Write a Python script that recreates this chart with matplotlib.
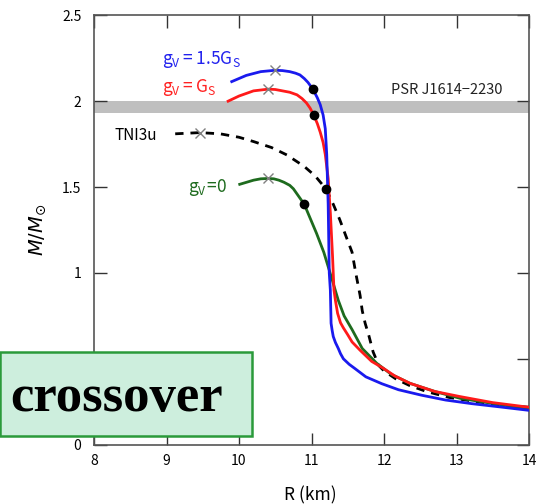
import matplotlib
matplotlib.use("Agg")
import matplotlib.pyplot as plt
from matplotlib.patches import Rectangle

plt.rcParams['font.family'] = ['Noto Sans CJK JP', 'DejaVu Sans']
plt.rcParams['mathtext.fontset'] = 'dejavusans'

# g_V = 1.5 G_S (blue)
blue_R = [9.90, 10.10, 10.30, 10.50, 10.60, 10.70, 10.78, 10.84, 10.90, 10.95, 11.02, 11.08, 11.12,
          11.16, 11.19, 11.21, 11.23, 11.245, 11.26, 11.27, 11.285, 11.30, 11.33, 11.37, 11.40,
          11.44, 11.52, 11.60, 11.75, 11.97, 12.20, 12.52, 12.85, 13.21, 13.60, 14.00]
blue_M = [2.114, 2.150, 2.172, 2.180, 2.178, 2.172, 2.163, 2.153, 2.132, 2.110, 2.070, 2.020, 1.980,
          1.920, 1.840, 1.690, 1.400, 1.000, 0.900, 0.707, 0.665, 0.630, 0.595, 0.560, 0.530,
          0.500, 0.468, 0.443, 0.395, 0.355, 0.320, 0.288, 0.260, 0.239, 0.220, 0.200]

# g_V = G_S (red)
red_R = [9.85, 10.00, 10.20, 10.40, 10.50, 10.60, 10.70, 10.80, 10.87, 10.93, 10.98, 11.03, 11.08,
         11.12, 11.16, 11.19, 11.23, 11.26, 11.29, 11.31, 11.33, 11.36, 11.40, 11.44, 11.50,
         11.56, 11.67, 11.83, 11.99, 12.15, 12.36, 12.70, 13.05, 13.50, 14.00]
red_M = [2.000, 2.030, 2.060, 2.070, 2.068, 2.060, 2.052, 2.037, 2.015, 1.990, 1.960, 1.920, 1.870,
         1.820, 1.760, 1.690, 1.550, 1.350, 1.100, 0.900, 0.840, 0.765, 0.710, 0.680, 0.640,
         0.598, 0.550, 0.485, 0.445, 0.400, 0.357, 0.310, 0.280, 0.245, 0.218]

# g_V = 0 (green)
green_R = [10.01, 10.20, 10.30, 10.40, 10.48, 10.55, 10.62, 10.70, 10.75, 10.80, 10.85, 10.90,
           11.00, 11.07, 11.17, 11.28, 11.37, 11.45, 11.56, 11.70, 11.90, 12.10, 12.36, 12.70,
           13.05, 13.50, 14.00]
green_M = [1.516, 1.540, 1.548, 1.550, 1.548, 1.540, 1.528, 1.510, 1.490, 1.460, 1.430, 1.400,
           1.300, 1.230, 1.120, 0.967, 0.840, 0.750, 0.670, 0.560, 0.474, 0.410, 0.357, 0.310,
           0.270, 0.240, 0.210]

# TNI3u (black dashed)
tni_R = [9.12, 9.46, 9.74, 10.00, 10.20, 10.45, 10.66, 10.90, 11.05, 11.20, 11.30, 11.39, 11.47,
         11.56, 11.61, 11.67, 11.70, 11.74, 11.79, 11.85, 11.93, 12.00, 12.16, 12.35, 12.59,
         12.90, 13.28, 13.60, 14.00]
tni_M = [1.810, 1.817, 1.810, 1.790, 1.765, 1.730, 1.687, 1.620, 1.565, 1.489, 1.400, 1.310, 1.220,
         1.120, 1.000, 0.870, 0.780, 0.707, 0.637, 0.540, 0.460, 0.430, 0.384, 0.345, 0.309,
         0.275, 0.250, 0.232, 0.218]

# maximum-mass markers (x) and onset markers (dots)
xmark_R = [10.50, 10.40, 9.46, 10.40]
xmark_M = [2.180, 2.070, 1.817, 1.550]
dot_R = [11.02, 11.03, 11.20, 10.90]
dot_M = [2.070, 1.920, 1.489, 1.400]

psr_low, psr_high = 1.93, 2.00

x_ticks = [8, 9, 10, 11, 12, 13, 14]
y_ticks = [0, 0.5, 1, 1.5, 2, 2.5]
y_ticklabels = ['0', '0.5', '1', '1.5', '2', '2.5']

fig = plt.figure(figsize=(5.44, 5.04), dpi=100)
ax = fig.add_axes([94/544, (504-444.7)/504, 435/544, 429.4/504])

ax.axhspan(psr_low, psr_high, color='#bfbfbf', lw=0, zorder=1)
ax.text(12.87, 2.066, 'PSR J1614\u22122230', fontsize=10.5, ha='center', va='center', color='#222222')

ax.plot(tni_R, tni_M, color='black', lw=2, ls=(0, (3, 2.5)), zorder=3)
ax.plot(green_R, green_M, color='#1e6b1e', lw=2, zorder=4)
ax.plot(red_R, red_M, color='#ff1a1a', lw=2, zorder=5)
ax.plot(blue_R, blue_M, color='#1a1aee', lw=2, zorder=6)

ax.plot(xmark_R, xmark_M, ls='none', marker='x', ms=7, mew=1.0, color='#808080', zorder=7)
ax.plot(dot_R, dot_M, ls='none', marker='o', ms=6, color='black', zorder=8)

ax.text(8.94, 2.245, r'$\mathregular{g_V=1.5G_S}$', color='#2222ee', fontsize=12.5, ha='left', va='center')
ax.text(8.94, 2.077, r'$\mathregular{g_V=G_S}$', color='#ff2222', fontsize=12.5, ha='left', va='center')
ax.text(8.57, 1.80, 'TNI3u', color='black', fontsize=11, ha='center', va='center')
ax.text(9.30, 1.50, r'$\mathregular{g_V\!=\!0}$', color='#1e6b1e', fontsize=12.5, ha='left', va='center')

ax.set_xlim(8, 14)
ax.set_ylim(0, 2.5)
ax.set_xticks(x_ticks)
ax.set_yticks(y_ticks)
ax.set_yticklabels(y_ticklabels)
ax.tick_params(direction='in', length=9, width=1, color='#333333', labelsize=10,
               top=True, right=True, labeltop=False, labelright=False)
ax.tick_params(axis='x', pad=7)
ax.tick_params(axis='y', pad=9)
for s in ax.spines.values():
    s.set_color('#555555')
    s.set_linewidth(1.2)

ax.set_xlabel('R (km)', fontsize=12.5)
ax.xaxis.set_label_coords(0.497, -0.097)
ax.set_ylabel(r'$M/M_{\odot}$', fontsize=14)
ax.yaxis.set_label_coords(-0.106, 0.5)

box = Rectangle((0, (504-436.3)/504), 252/544, (436.3-352)/504, transform=fig.transFigure,
                facecolor='#cdeedd', edgecolor='#2a9a3a', lw=1.8, zorder=20)
fig.add_artist(box)
fig.text(117/544, (504-398)/504, 'crossover', family='Liberation Serif', fontweight='bold',
         fontsize=38, ha='center', va='center', zorder=21)

fig.savefig('out.png', dpi=100)
